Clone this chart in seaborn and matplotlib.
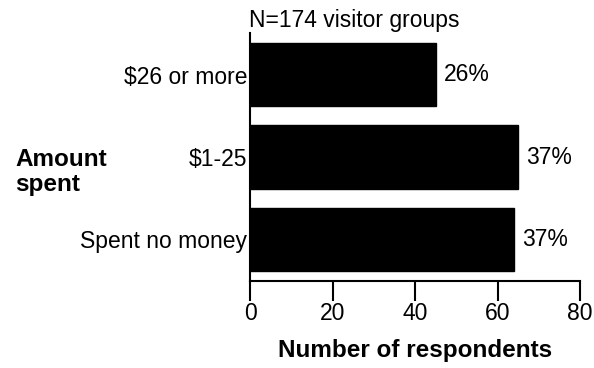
import matplotlib
matplotlib.use("Agg")
import matplotlib.pyplot as plt
import seaborn as sns
import pandas as pd

categories = ["$26 or more", "$1-25", "Spent no money"]
counts = [45, 65, 64]
percent_labels = ["26%", "37%", "37%"]
x_ticks = [0, 20, 40, 60, 80]

sns.set_theme(style="ticks")
plt.rcParams['font.family'] = ['Liberation Sans', 'DejaVu Sans']
plt.rcParams['text.color'] = 'black'
plt.rcParams['xtick.color'] = 'black'
plt.rcParams['ytick.color'] = 'black'
plt.rcParams['axes.labelcolor'] = 'black'

df = pd.DataFrame({"category": categories, "count": counts})

fig = plt.figure(figsize=(5.94, 3.68), dpi=100)
ax = fig.add_axes([250/594, 1-281/368, 330/594, (281-33)/368])

sns.barplot(data=df, y="category", x="count", orient="h", color="black",
            width=0.77, ax=ax, saturation=1)
for p in ax.patches:
    p.set_edgecolor("black")

ax.set_xlim(0, 80)
ax.set_ylim(2.51, -0.51)
ax.set_xticks(x_ticks)
ax.set_xticklabels([str(t) for t in x_ticks])
ax.tick_params(axis='x', length=14.4, width=1.5, color='black', pad=1, labelsize=16.5, labelcolor='black')
ax.tick_params(axis='y', length=0, pad=2, labelsize=16.5, labelcolor='black')
ax.set_ylabel("")
ax.set_xlabel("Number of respondents", fontsize=17.5, fontweight='bold', labelpad=10, color='black')

for sp in ["top", "right"]:
    ax.spines[sp].set_visible(False)
ax.spines["left"].set_linewidth(1.5)
ax.spines["bottom"].set_linewidth(1.5)
ax.spines["left"].set_color("black")
ax.spines["bottom"].set_color("black")

for i, (c, lab) in enumerate(zip(counts, percent_labels)):
    ax.text(c + 2, i, lab, va='center', ha='left', fontsize=16.5, color='black')

ax.set_title("N=174 visitor groups", loc='left', fontsize=16.5, pad=4, x=-0.003, color='black')

fig.text(15/594, 1-172/368, "Amount\nspent", fontsize=17.5, fontweight='bold',
         ha='left', va='center', linespacing=1.1, color='black')

fig.savefig("out.png", dpi=100)
